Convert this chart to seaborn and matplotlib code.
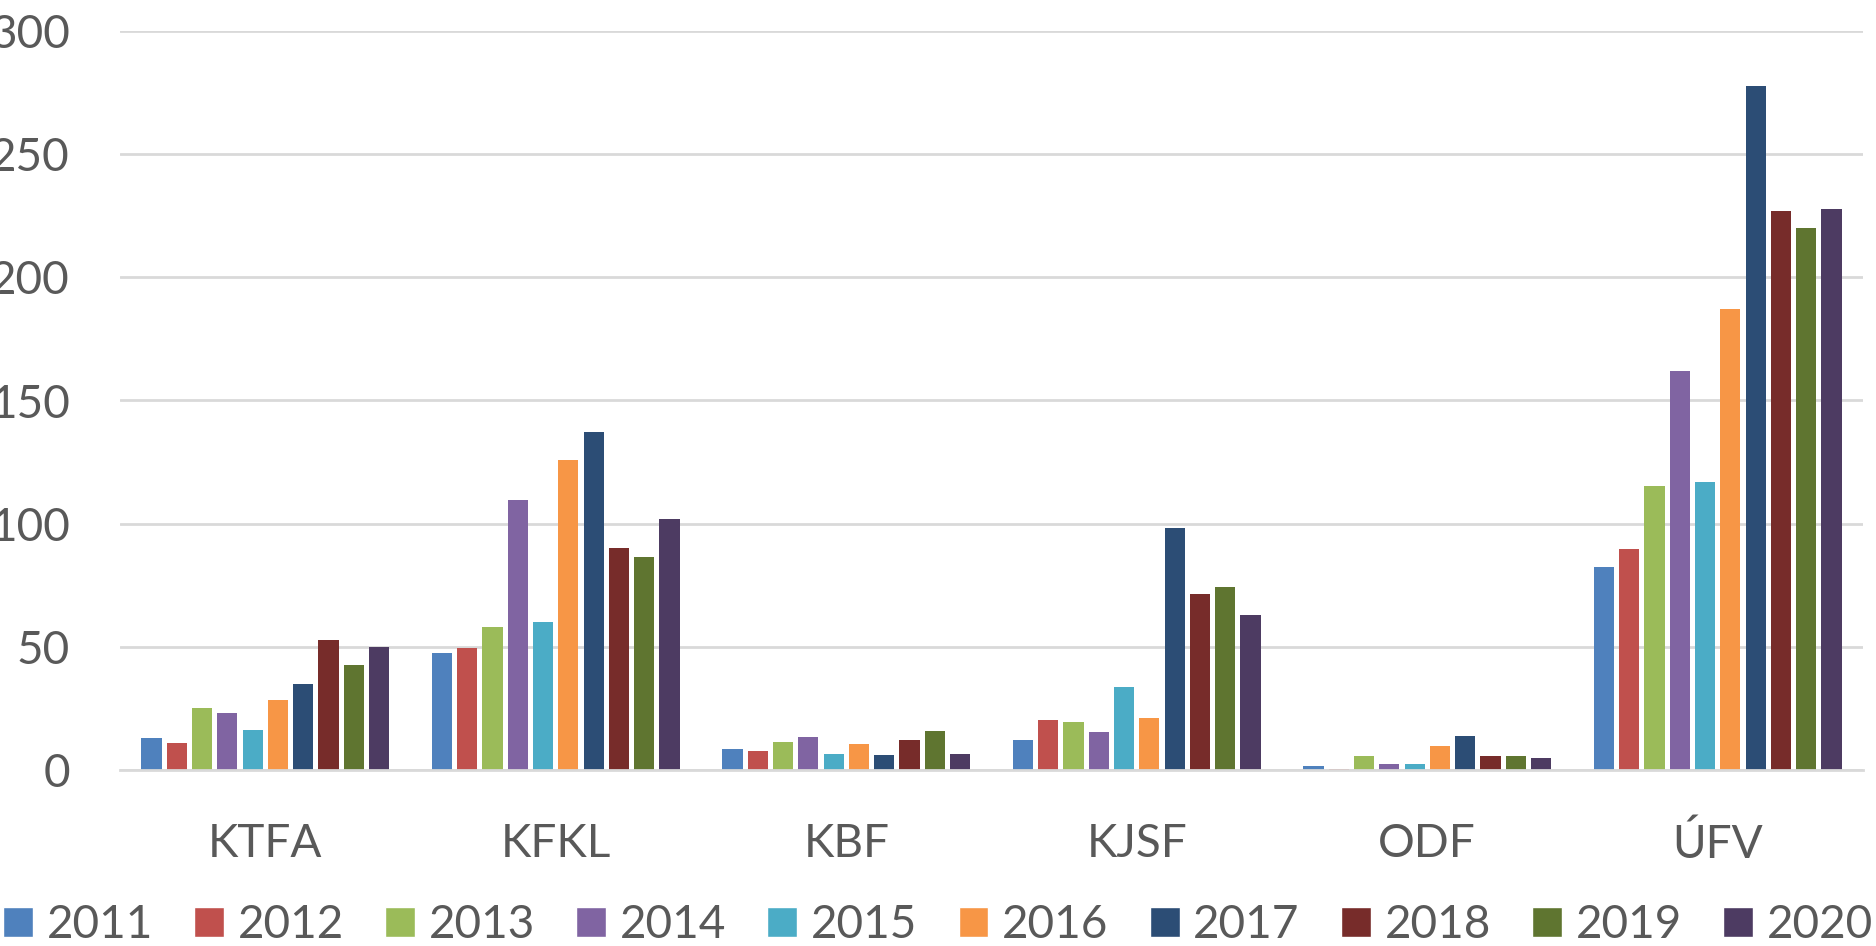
import matplotlib
matplotlib.use("Agg")
import matplotlib.pyplot as plt
import pandas as pd
import seaborn as sns
from matplotlib.patches import Patch

# data
categories = ["KTFA", "KFKL", "KBF", "KJSF", "ODF", "ÚFV"]
years = ["2011", "2012", "2013", "2014", "2015", "2016", "2017", "2018", "2019", "2020"]

v2011 = [13.1, 47.4, 8.5, 12.3, 1.6, 82.5]
v2012 = [11.0, 49.5, 7.8, 20.5, 0.6, 89.7]
v2013 = [25.1, 58.0, 11.4, 19.5, 5.7, 115.1]
v2014 = [23.0, 109.8, 13.3, 15.3, 2.6, 162.1]
v2015 = [16.2, 60.0, 6.5, 33.5, 2.6, 116.8]
v2016 = [28.6, 125.7, 10.7, 21.3, 9.6, 187.1]
v2017 = [34.8, 137.4, 6.2, 98.4, 13.7, 277.6]
v2018 = [52.9, 90.0, 12.0, 71.5, 5.7, 227.1]
v2019 = [42.7, 86.6, 15.7, 74.3, 5.7, 220.0]
v2020 = [50.0, 102.0, 6.5, 63.1, 4.9, 227.8]

series = [v2011, v2012, v2013, v2014, v2015, v2016, v2017, v2018, v2019, v2020]
colors = ["#4F81BD", "#C0504D", "#9BBB59", "#8064A2", "#4BACC6",
          "#F79646", "#2C4D75", "#772C2A", "#5F7530", "#4D3B62"]

rows = []
for y, vals in zip(years, series):
    for c, v in zip(categories, vals):
        rows.append({"cat": c, "year": y, "val": v})
df = pd.DataFrame(rows)

sns.set_style("white")
plt.rcParams["font.family"] = ["Lato", "DejaVu Sans"]

fig = plt.figure(figsize=(18.76, 9.46), dpi=100)
ax = fig.add_axes([120 / 1876, 176 / 946, 1743 / 1876, 739 / 946])

sns.barplot(data=df, x="cat", y="val", hue="year", palette=colors,
            width=0.87, gap=0.2, ax=ax, legend=False, linewidth=0, saturation=1)

ax.set_ylim(0, 300)
ax.set_xlim(-0.5, 5.5)
ax.set_yticks(range(0, 301, 50))
ax.yaxis.grid(True, color="#D9D9D9", linewidth=2)
ax.set_axisbelow(True)
for s in ["top", "right", "left"]:
    ax.spines[s].set_visible(False)
ax.spines["bottom"].set_color("#D9D9D9")
ax.spines["bottom"].set_linewidth(2)
ax.tick_params(axis="y", length=0, pad=36, labelsize=33, labelcolor="#595959")
ax.tick_params(axis="x", length=0, pad=38, labelsize=33, labelcolor="#595959")
ax.set_xlabel("")
ax.set_ylabel("")

handles = [Patch(facecolor=c, label=y) for c, y in zip(colors, years)]
fig.legend(handles=handles, loc="center", bbox_to_anchor=(0.5, 1 - 925 / 946),
           ncol=10, frameon=False, fontsize=33, handlelength=0.65, handleheight=0.65,
           handletextpad=0.3, columnspacing=0.9, labelcolor="#595959")

fig.savefig("out.png", dpi=100)
